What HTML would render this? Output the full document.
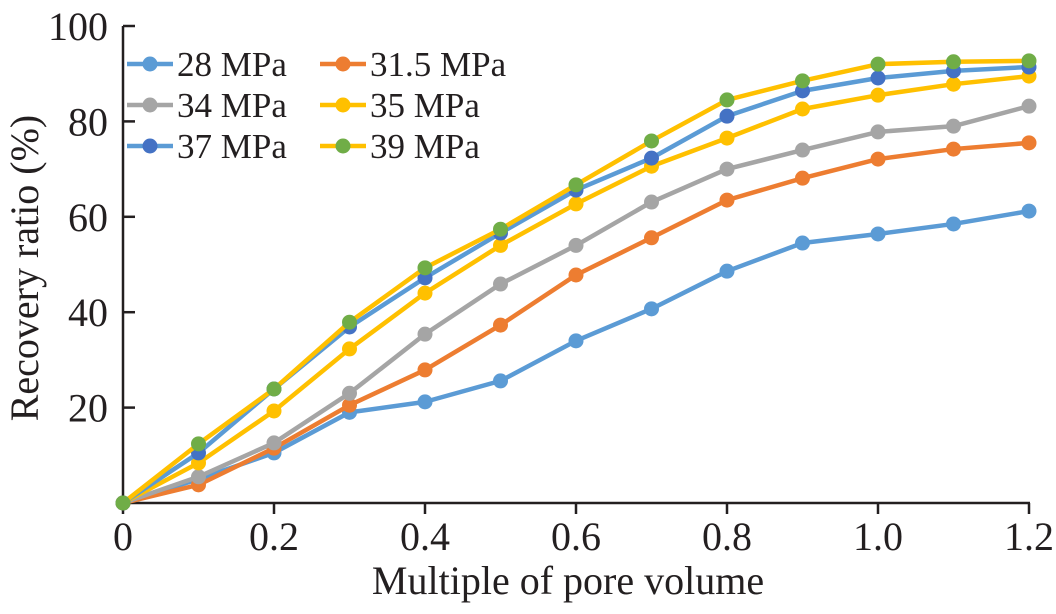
<!DOCTYPE html>
<html><head><meta charset="utf-8"><style>
body{margin:0;background:#fff}
svg text{font-family:"Liberation Serif","Times New Roman",serif !important;fill:#231f20}
</style></head><body>
<svg id="c" width="1056" height="609" xmlns="http://www.w3.org/2000/svg" font-family="Liberation Serif, serif"></svg>
<script>
const xs=[0,0.1,0.2,0.3,0.4,0.5,0.6,0.7,0.8,0.9,1.0,1.1,1.2];
const s28=[0,5,10.5,19,21.2,25.6,34,40.7,48.6,54.5,56.4,58.5,61.2];
const s315=[0,3.8,11.5,20.5,27.9,37.3,47.8,55.6,63.5,68.1,72.1,74.2,75.5];
const s34=[0,5.5,12.6,23,35.4,45.9,54,63.1,70,74,77.8,79,83.2];
const s35=[0,8.4,19.3,32.3,44,54,62.7,70.6,76.5,82.6,85.5,87.8,89.5];
const s37=[0,10.5,23.9,36.9,47.2,56.6,65.6,72.3,81.1,86.4,89.1,90.6,91.4];
const s39=[0,12.4,23.9,37.9,49.3,57.4,66.7,75.9,84.5,88.5,92,92.5,92.7];
const xTicks=[0,0.2,0.4,0.6,0.8,1.0,1.2];
const xTickLabels=["0","0.2","0.4","0.6","0.8","1.0","1.2"];
const yTicks=[20,40,60,80,100];
const names=["28 MPa","31.5 MPa","34 MPa","35 MPa","37 MPa","39 MPa"];
const series=[s28,s315,s34,s35,s37,s39];
const lineCol=["#5b9bd5","#ed7d31","#a5a5a5","#ffc000","#5b9bd5","#ffc000"];
const markCol=["#5b9bd5","#ed7d31","#a5a5a5","#ffc000","#4472c4","#70ad47"];
const X=v=>123+v*755, Y=v=>503-v*4.77;
const FF="Liberation Serif, serif";
const svg=document.getElementById('c'), NS="http://www.w3.org/2000/svg";
function mk(t,a,p){const e=document.createElementNS(NS,t);for(const k in a)e.setAttribute(k,a[k]);if(t==='text')e.setAttribute('font-family',FF);(p||svg).appendChild(e);return e;}
let e;
e=mk('line',{x1:123,y1:26,x2:123,y2:503,stroke:'#231f20','stroke-width':2.5});


e=mk('line',{x1:123,y1:503,x2:1030,y2:503,stroke:'#231f20','stroke-width':2.5});


yTicks.forEach(v=>{
 e=mk('line',{x1:123,y1:Y(v),x2:135,y2:Y(v),stroke:'#231f20','stroke-width':2.5});
 
 
 e=mk('text',{x:108,y:Y(v)+14,'text-anchor':'end','font-size':40});e.textContent=v;
 
 
});
xTicks.forEach((v,i)=>{
 e=mk('line',{x1:X(v),y1:503,x2:X(v),y2:514,stroke:'#231f20','stroke-width':2.5});
 
 
 e=mk('text',{x:X(v),y:550,'text-anchor':'middle','font-size':40});e.textContent=xTickLabels[i];
 
 
});
e=mk('text',{x:568,y:594,'text-anchor':'middle','font-size':40});e.textContent="Multiple of pore volume";


e=mk('text',{x:0,y:0,'text-anchor':'middle','font-size':40,transform:'translate(38,268) rotate(-90)'});e.textContent="Recovery ratio (%)";


series.forEach((s,k)=>{
 const g=mk('g',{});
 
 
 e=mk('polyline',{points:s.map((v,i)=>X(xs[i])+','+Y(v)).join(' '),fill:'none',stroke:lineCol[k],'stroke-width':4.5,'stroke-linejoin':'round'},g);
 
 
 s.forEach((v,i)=>{e=mk('circle',{cx:X(xs[i]),cy:Y(v),r:7.5,fill:markCol[k]},g);
 
 });
});
const lg=mk('g',{});


names.forEach((n,k)=>{
 const col=k%2, row=Math.floor(k/2);
 const lx=col?320:127, ly=64+row*41;
 const g=mk('g',{},lg);
 
 
 mk('line',{x1:lx,y1:ly,x2:lx+46,y2:ly,stroke:lineCol[k],'stroke-width':4.5},g);
 mk('circle',{cx:lx+23,cy:ly,r:7.5,fill:markCol[k]},g);
 e=mk('text',{x:lx+50,y:ly+12,'font-size':35},g);e.textContent=n;
});
</script>
</body></html>
